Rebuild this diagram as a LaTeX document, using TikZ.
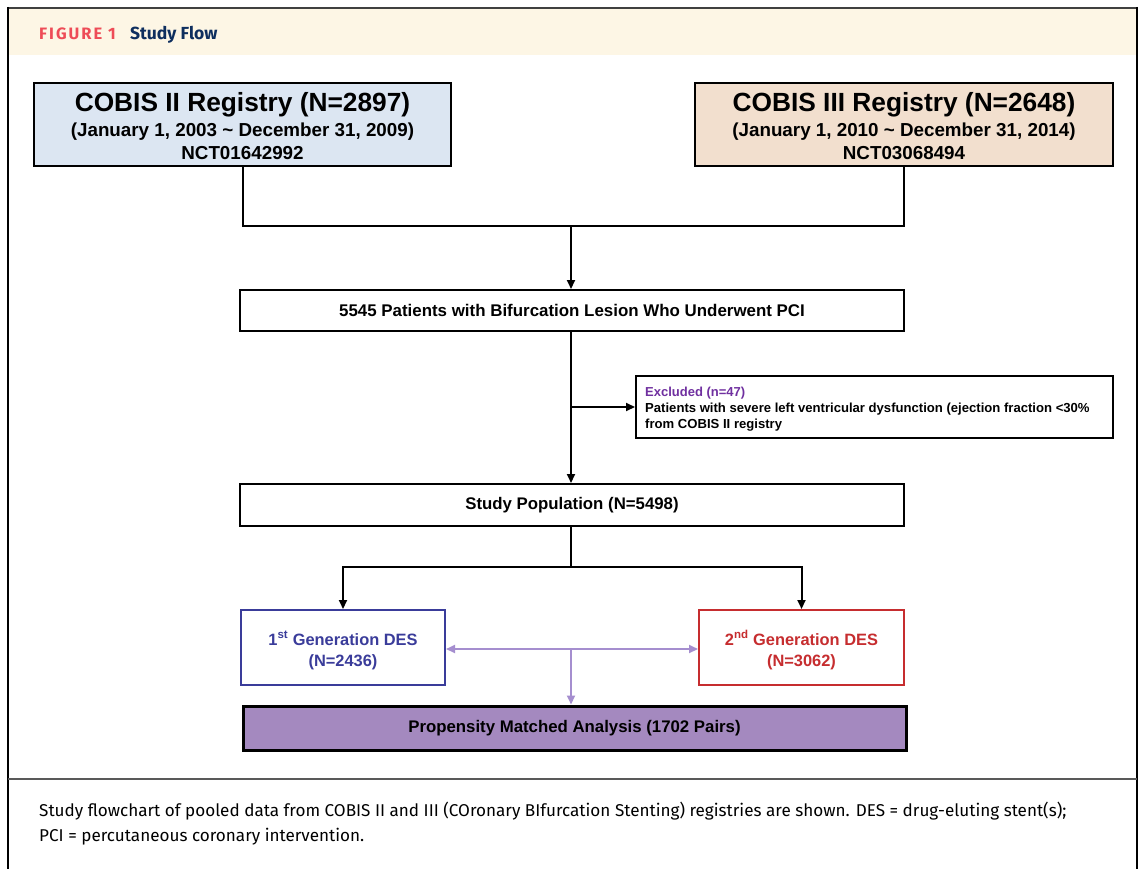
\documentclass[tikz,border=0pt]{standalone}
\usepackage{fontspec}
\setmainfont{Liberation Sans}
\newfontfamily\capfont{Fira Sans}
\newfontfamily\headfont{Fira Sans}
\usetikzlibrary{arrows.meta}
\definecolor{hdrbg}{HTML}{FDF6E5}
\definecolor{figred}{HTML}{EE4C57}
\definecolor{navy}{HTML}{0E2E5E}
\definecolor{bluefill}{HTML}{DCE6F2}
\definecolor{tanfill}{HTML}{F2DFCE}
\definecolor{genblue}{HTML}{3A3C9A}
\definecolor{genred}{HTML}{C62D2F}
\definecolor{purplefill}{HTML}{A489BF}
\definecolor{purpleline}{HTML}{A58ECF}
\definecolor{exclpurple}{HTML}{7030A0}
\tikzset{
  box/.style={draw, line width=2pt, inner sep=0pt},
  txt/.style={anchor=base, inner sep=0pt, font=\bfseries},
  conn/.style={line width=2pt},
  arr/.style={line width=2pt, -{Triangle[length=9pt,width=8pt]}},
  parr/.style={line width=2pt, draw=purpleline, -{Triangle[length=9pt,width=8pt]}},
  pdarr/.style={line width=2pt, draw=purpleline, {Triangle[length=9pt,width=8pt]}-{Triangle[length=9pt,width=8pt]}},
}
\begin{document}
\begin{tikzpicture}[x=1pt,y=-1pt]
\useasboundingbox (0,0) rectangle (1142,869);
\fill[white] (0,0) rectangle (1142,869);
\fill[hdrbg] (8,8) rectangle (1137,55);
\draw[line width=2pt, black!75] (7,8) -- (1138,8);
\draw[line width=2.5pt] (8,7) -- (8,869);
\draw[line width=2.5pt] (1137,7) -- (1137,869);
\draw[line width=1.5pt, black!65] (8,779) -- (1137,779);

\node[anchor=base west, inner sep=0pt, text=figred, font=\headfont\bfseries\fontsize{16.5}{18}\selectfont\addfontfeature{LetterSpace=12}] (figlbl) at (39,39.5) {FIGURE 1};
\node[anchor=base west, inner sep=0pt, text=navy, font=\headfont\bfseries\fontsize{17.5}{18}\selectfont] (figttl) at (130,39.5) {Study Flow};

% registries
\node[box, fill=bluefill, minimum width=417pt, minimum height=83pt] (c2) at (242.5,124.5) {};
\node[txt, font=\bfseries\fontsize{26.3}{30}\selectfont] (c2a) at (242.5,112) {COBIS II Registry (N=2897)};
\node[txt, font=\bfseries\fontsize{18.8}{22}\selectfont] (c2b) at (242.5,137) {(January 1, 2003 \textasciitilde{} December 31, 2009)};
\node[txt, font=\bfseries\fontsize{18.8}{22}\selectfont] (c2c) at (242.5,160) {NCT01642992};

\node[box, fill=tanfill, minimum width=418pt, minimum height=83pt] (c3) at (904,124.5) {};
\node[txt, font=\bfseries\fontsize{26.3}{30}\selectfont] (c3a) at (904,112) {COBIS III Registry (N=2648)};
\node[txt, font=\bfseries\fontsize{18.8}{22}\selectfont] (c3b) at (904,137) {(January 1, 2010 \textasciitilde{} December 31, 2014)};
\node[txt, font=\bfseries\fontsize{18.8}{22}\selectfont] (c3c) at (904,160) {NCT03068494};

\coordinate (merge) at (571,226);
\node[box, minimum width=664pt, minimum height=41pt, font=\bfseries\fontsize{16.9}{18}\selectfont] (pci) at (572,310.5) {5545 Patients with Bifurcation Lesion Who Underwent PCI};

\node[box, minimum width=477pt, minimum height=62pt] (excl) at (874.5,407) {};
\node[anchor=base west, inner sep=0pt, text=exclpurple, font=\bfseries\fontsize{13}{15}\selectfont] (ex1) at (645,396) {Excluded (n=47)};
\node[anchor=base west, inner sep=0pt, font=\bfseries\fontsize{13.1}{15}\selectfont] (ex2) at (645,412) {Patients with severe left ventricular dysfunction (ejection fraction <30\%};
\node[anchor=base west, inner sep=0pt, font=\bfseries\fontsize{13.1}{15}\selectfont] (ex3) at (645,428) {from COBIS II registry};

\node[box, minimum width=664pt, minimum height=42pt, font=\bfseries\fontsize{16.8}{18}\selectfont] (pop) at (572,505) {Study Population (N=5498)};

\coordinate (split) at (571,567);
\node[box, draw=genblue, minimum width=204pt, minimum height=75pt] (g1) at (343,647.5) {};
\node[inner sep=0pt, text=genblue, align=center, font=\bfseries\fontsize{16.4}{21}\selectfont] (g1t) at (343,650) {1\textsuperscript{st}\vphantom{\textsuperscript{nd}} Generation DES\\(N=2436)};
\node[box, draw=genred, minimum width=205pt, minimum height=75pt] (g2) at (801.5,647.5) {};
\node[inner sep=0pt, text=genred, align=center, font=\bfseries\fontsize{16.4}{21}\selectfont] (g2t) at (801.5,650) {2\textsuperscript{nd} Generation DES\\(N=3062)};

\node[box, line width=3pt, fill=purplefill, minimum width=663pt, minimum height=44pt, font=\bfseries\fontsize{16.8}{18}\selectfont] (psm) at (574.5,728) {Propensity Matched Analysis (1702 Pairs)};

% connectors
\draw[conn] (c2.south) |- (merge);
\draw[conn] (c3.south) |- (merge);
\draw[arr] (merge) -- (pci.north -| merge);
\draw[arr] (pci.south -| merge) -- (pop.north -| merge);
\draw[arr] (merge |- excl.west) -- (excl.west);
\draw[conn] (pop.south -| split) -- (split);
\draw[arr] (split) -| (g1.north);
\draw[arr] (split) -| (g2.north);
\coordinate (pmid) at (571,649);
\draw[pdarr] (g1.east |- pmid) -- (g2.west |- pmid);
\draw[parr] (pmid) -- (psm.north -| pmid);

% caption
\node[anchor=base west, inner sep=0pt, font=\capfont\fontsize{17.1}{20}\selectfont] (cap1) at (39,816) {Study flowchart of pooled data from COBIS II and III (COronary BIfurcation Stenting) registries are shown. DES = drug-eluting stent(s);};
\node[anchor=base west, inner sep=0pt, font=\capfont\fontsize{17.1}{20}\selectfont] (cap2) at (39,841) {PCI = percutaneous coronary intervention.};
\end{tikzpicture}
\end{document}
